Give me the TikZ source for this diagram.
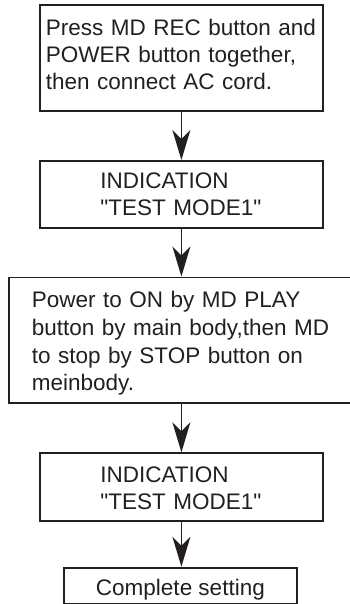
\documentclass[tikz,border=0pt]{standalone}
\usepackage{fontspec}
\setmainfont{Liberation Sans}[Ligatures=TeXOff]
\usetikzlibrary{arrows.meta}
\definecolor{ink}{RGB}{35,31,32}
\begin{document}
\begin{tikzpicture}[x=1pt,y=-1pt,
  box/.style={draw=ink, line width=1.8pt, rectangle, anchor=north west,
    inner ysep=0pt, align=left, text=ink},
  flow/.style={draw=ink, line width=1.7pt,
    -{Stealth[length=30pt,width=18pt,inset=9pt]}},
  ]
\useasboundingbox (0,0) rectangle (350,604);
\begin{scope}
\clip (0,0) rectangle (350,604);
\node[box, minimum width=283pt, inner xsep=6pt, text width=271pt,
  font={\fontsize{22.5}{27}\selectfont}, text height=30.5pt, text depth=75pt]
  (b1) at (39,4.5)
  {Press MD REC button and\\POWER button together,\\then connect AC cord.};
\node[box, minimum width=283pt, inner xsep=0pt, text width=162pt,
  font={\fontsize{22.5}{27.5}\selectfont}, text height=27.5pt, text depth=39.5pt]
  (b2) at (39,160)
  {INDICATION\\\mbox{"TEST MODE1"}};
\node[box, minimum width=352pt, inner xsep=23pt, text width=306pt,
  font={\fontsize{22.5}{27.7}\selectfont}, text height=30.2pt, text depth=95.6pt]
  (b3) at (8,276.5)
  {Power to ON by MD PLAY\\button by main body,then MD\\to stop by STOP button on\\meinbody.};
\node[box, minimum width=283pt, inner xsep=0pt, text width=162pt,
  font={\fontsize{22.5}{26.8}\selectfont}, text height=29pt, text depth=38.5pt]
  (b4) at (39,452.3)
  {INDICATION\\\mbox{"TEST MODE1"}};
\node[box, minimum width=233pt, inner xsep=0pt, align=center,
  font={\fontsize{22.5}{27}\selectfont}, text height=28.3pt, text depth=7.7pt]
  (b5) at (63,566.7)
  {Complete setting};
\draw[flow] (b1.south) -- (b2.north);
\draw[flow] (b2.south) -- (b2.south |- b3.north);
\draw[flow] (b4.north |- b3.south) -- (b4.north);
\draw[flow] (b4.south) -- (b4.south |- b5.north);
\end{scope}
\end{tikzpicture}
\end{document}
